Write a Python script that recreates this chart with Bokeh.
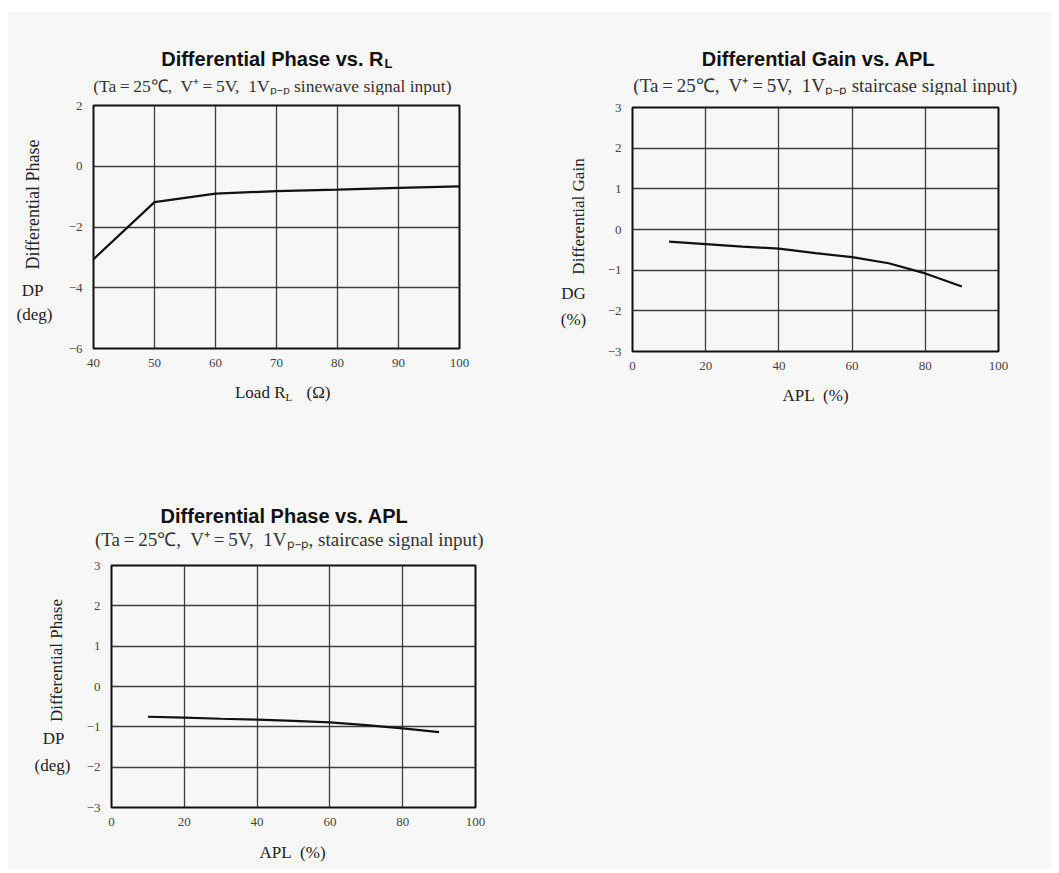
from bokeh.plotting import figure
from bokeh.models import Range1d, FixedTicker
from bokeh.layouts import column, row
from bokeh.core.properties import value
from bokeh.embed import file_html
from bokeh.resources import INLINE
import math

# ---------------- data ----------------
load_rl = [40, 50, 60, 70, 80, 90, 100]
dp_vs_rl = [-3.06, -1.18, -0.90, -0.82, -0.77, -0.71, -0.66]

apl = [10, 20, 30, 40, 50, 60, 70, 80, 90]
dg_vs_apl = [-0.30, -0.36, -0.42, -0.47, -0.58, -0.68, -0.83, -1.08, -1.40]
dp_vs_apl = [-0.75, -0.77, -0.80, -0.82, -0.85, -0.89, -0.96, -1.04, -1.13]

ticks_rl_x = [40, 50, 60, 70, 80, 90, 100]
ticks_rl_y = [-6, -4, -2, 0, 2]
ticks_apl_x = [0, 20, 40, 60, 80, 100]
ticks_apl_y = [-3, -2, -1, 0, 1, 2, 3]

BG = "#f7f7f7"
SERIF = "Liberation Serif"
SANS = "Liberation Sans"
TXT = "#222222"


def chart(ox, oy, w, h, frame, xr, yr, xticks, yticks, xs, ys):
    """A chart figure; frame = (L, T, R, B) of the plot box in page pixels."""
    L, T, R, B = frame
    p = figure(width=w, height=h, x_range=Range1d(*xr), y_range=Range1d(*yr),
               output_backend="svg", toolbar_location=None, title=None, frame_align=False,
               min_border_left=L - ox, min_border_right=ox + w - R,
               min_border_top=T - oy, min_border_bottom=oy + h - B)
    p.background_fill_color = BG
    p.border_fill_color = BG
    p.outline_line_color = "#111111"
    p.outline_line_width = 2
    p.xaxis.ticker = FixedTicker(ticks=xticks)
    p.yaxis.ticker = FixedTicker(ticks=yticks)
    p.yaxis.major_label_overrides = {v: ("\u2212" + str(abs(v)) if v < 0 else str(v)) for v in yticks}
    for ax in (p.xaxis, p.yaxis):
        ax.axis_line_color = None
        ax.major_tick_line_color = None
        ax.minor_tick_line_color = None
        ax.major_label_text_font = SERIF
        ax.major_label_text_font_size = "13px"
        ax.major_label_text_color = "#444444"
    p.xaxis.major_label_standoff = 4
    p.yaxis.major_label_standoff = 5
    p.grid.grid_line_color = "#2a2a2a"
    p.grid.grid_line_width = 1.3
    p.grid.grid_line_alpha = 0.9
    p.line(xs, ys, line_color="#111111", line_width=2.2)
    return p


def band(ox, oy, w, h):
    """A text strip whose coordinates are page pixels (y grows downward)."""
    p = figure(width=w, height=h, x_range=Range1d(ox, ox + w), y_range=Range1d(oy + h, oy),
               x_axis_type=None, y_axis_type=None, title=None, frame_align=False,
               min_border_left=0, min_border_right=0, min_border_top=0, min_border_bottom=0,
               output_backend="svg", toolbar_location=None)
    p.outline_line_color = None
    p.background_fill_color = BG
    p.border_fill_color = BG
    return p


def put(p, x, y, s, size="17px", font=SERIF, style="normal", align="center", color=TXT, angle=0.0):
    p.text(x=[x], y=[y], text=[s], text_font=value(font), text_font_size=value(size),
           text_font_style=value(style), text_align=value(align), text_baseline=value("middle"),
           text_color=color, angle=angle)


SUB1 = "(Ta\u2009=\u200925\u2103,\u00a0 V\u207a\u2009=\u20095V,\u00a0 1V\u209a\u208b\u209a sinewave signal input)"
SUB2 = "(Ta\u2009=\u200925\u2103,\u00a0 V\u207a\u2009=\u20095V,\u00a0 1V\u209a\u208b\u209a staircase signal input)"
SUB3 = "(Ta\u2009=\u200925\u2103,\u00a0 V\u207a\u2009=\u20095V,\u00a0 1V\u209a\u208b\u209a, staircase signal input)"

# ---------------- top band: titles of the two upper charts ----------------
topband = band(8, 12, 1043, 83)
put(topband, 383, 58, "Differential Phase vs. R", size="20px", font=SANS, style="bold", align="right", color="#111111")
put(topband, 384, 63, "L", size="13px", font=SANS, style="bold", align="left", color="#111111")
put(topband, 272, 85, SUB1, size="17.5px", color="#333333")
put(topband, 818, 58, "Differential Gain vs. APL", size="20px", font=SANS, style="bold", color="#111111")
put(topband, 825, 85, SUB2, size="19px", color="#333333")

# ---------------- upper row ----------------
left1 = band(8, 95, 57, 280)
put(left1, 32, 204, "Differential Phase", size="18px", angle=math.pi / 2)
put(left1, 32, 290, "DP", size="17px")
put(left1, 34, 314, "(deg)", size="17px")

c1 = chart(65, 95, 480, 280, (93, 105, 459, 348), (40, 100), (-6, 2), ticks_rl_x, ticks_rl_y, load_rl, dp_vs_rl)

left2 = band(545, 95, 55, 280)
put(left2, 578, 216, "Differential Gain", size="17px", angle=math.pi / 2)
put(left2, 573, 293, "DG", size="17px")
put(left2, 573, 319, "(%)", size="17px")

c2 = chart(600, 95, 451, 280, (632, 107, 998, 351), (0, 100), (-3, 3), ticks_apl_x, ticks_apl_y, apl, dg_vs_apl)

# ---------------- middle band: x labels + lower chart title ----------------
midband = band(8, 375, 1043, 182)
put(midband, 285, 392, "Load R", size="17px", align="right")
put(midband, 285, 396, "L", size="11px", align="left")
put(midband, 306, 392, "(\u03a9)", size="17px", align="left")
put(midband, 815, 395, "APL\u00a0 (%)", size="17px")
put(midband, 284, 515, "Differential Phase vs. APL", size="20px", font=SANS, style="bold", color="#111111")
put(midband, 289, 539, SUB3, size="19px", color="#333333")

# ---------------- lower row ----------------
left3 = band(8, 557, 72, 273)
put(left3, 56, 660, "Differential Phase", size="17px", angle=math.pi / 2)
put(left3, 53, 738, "DP", size="17px")
put(left3, 52, 765, "(deg)", size="17px")

c3 = chart(80, 557, 450, 273, (111, 565, 475, 807), (0, 100), (-3, 3), ticks_apl_x, ticks_apl_y, apl, dp_vs_apl)

botband = band(8, 830, 1043, 39)
put(botband, 292, 852, "APL\u00a0 (%)", size="17px")

layout = column(topband, row(left1, c1, left2, c2), midband, row(left3, c3), botband,
                styles={"background-color": BG}, width=1043, height=857, margin=(12, 0, 0, 8))

open("out.html", "w").write(file_html(layout, INLINE))
